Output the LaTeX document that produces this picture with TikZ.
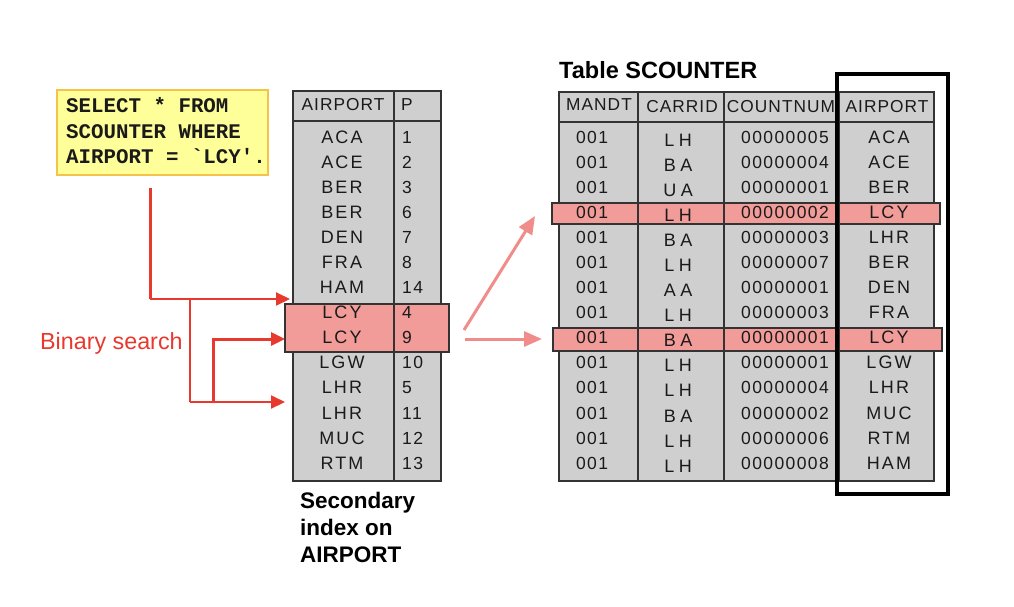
\documentclass[tikz,border=0pt]{standalone}
\usepackage{fontspec}
\setmainfont{Liberation Sans}
\newfontfamily\qfont{Liberation Mono}
\newfontfamily\codefont{Liberation Sans}[LetterSpace=12]
\newfontfamily\carfont{Liberation Sans}[LetterSpace=25]
\newfontfamily\numfont{Liberation Sans}[LetterSpace=8]
\newfontfamily\hdfont{Liberation Sans}[LetterSpace=6]
\usetikzlibrary{arrows.meta}
\definecolor{qfill}{HTML}{FFFF99}
\definecolor{qdraw}{HTML}{F3C449}
\definecolor{tblfill}{HTML}{CFCFCF}
\definecolor{tbldraw}{HTML}{333333}
\definecolor{hlfill}{HTML}{F29C9A}
\definecolor{redc}{HTML}{E8392E}
\definecolor{pinkc}{HTML}{F08C8A}
\definecolor{txt}{HTML}{1A1A1A}
\tikzset{
  tblbox/.style={draw=tbldraw, fill=tblfill, line width=1.6pt, inner sep=0pt},
  hlbox/.style={draw=tbldraw, fill=hlfill, line width=1.6pt, inner sep=0pt},
  gridline/.style={draw=tbldraw, line width=1.6pt},
  cell/.style={inner sep=0pt, text height=12.5pt, text depth=0pt, text=txt},
  codecell/.style={cell, font=\codefont\fontsize{18}{20}\selectfont},
  carcell/.style={cell, font=\carfont\fontsize{18}{20}\selectfont},
  numcell/.style={cell, font=\numfont\fontsize{17.5}{20}\selectfont},
  hdcell/.style={cell, text height=12pt, font=\hdfont\fontsize{17.3}{19}\selectfont},
  qline/.style={anchor=base west, inner sep=0pt, font=\qfont\bfseries\fontsize{20.8}{26}\selectfont, text=txt},
  secline/.style={anchor=base west, inner sep=0pt, font=\bfseries\fontsize{22.5}{27}\selectfont, text=black},
  redthin/.style={draw=redc, line width=2pt, -{Triangle[length=14pt,width=13pt]}},
  redthick/.style={draw=redc, line width=3pt, -{Triangle[length=14pt,width=13pt]}},
  redplain/.style={draw=redc, line width=2pt},
  pinkarrow/.style={draw=pinkc, line width=3pt, -{Triangle[length=18pt,width=15pt]}},
}
\begin{document}
\begin{tikzpicture}[x=1pt,y=-1pt]
\useasboundingbox[fill=white] (0,0) rectangle (1014,606);

% query box
\node[draw=qdraw, fill=qfill, line width=2pt, minimum width=211pt, minimum height=85pt, inner sep=0pt] (q) at (162.5,132.5) {};
\node[qline] (qt1) at (66,112) {SELECT * FROM};
\node[qline] (qt2) at (66,138) {SCOUNTER WHERE};
\node[qline] (qt3) at (66,163) {AIRPORT = `LCY'.};

% index table
\node[tblbox, minimum width=148pt, minimum height=390pt] (idx) at (367,286) {};
\node[hlbox, minimum width=164pt, minimum height=48pt] (idxhl) at (367,328) {};
\draw[gridline] (293,121) -- (441,121);
\draw[gridline] (394,91) -- (394,481);
\node[hdcell] (ih1) at (343,104) {AIRPORT};
\node[hdcell, anchor=west] (ih2) at (401,104) {P};
\foreach \a/\p [count=\i] in {ACA/1,ACE/2,BER/3,BER/6,DEN/7,FRA/8,HAM/14,LCY/4,LCY/9,LGW/10,LHR/5,LHR/11,MUC/12,RTM/13} {
  \pgfmathsetmacro\yy{137+25.07*(\i-1)}
  \node[codecell] (ia-\i) at (342,\yy) {\a};
  \node[numcell, anchor=west] (ip-\i) at (402,\yy) {\p};
}
\node[secline] (sec1) at (300,508) {Secondary};
\node[secline] (sec2) at (300,535) {index on};
\node[secline] (sec3) at (300,562) {AIRPORT};

% main table
\node[anchor=base west, inner sep=0pt, font=\bfseries\fontsize{23.5}{26}\selectfont, text=black] (ttl) at (559,78) {Table SCOUNTER};
\node[tblbox, minimum width=375pt, minimum height=389pt] (mt) at (746.5,286.5) {};
\node[hlbox, minimum width=388pt, minimum height=21pt] (hl1) at (746,213.5) {};
\node[hlbox, minimum width=389pt, minimum height=23pt] (hl2) at (747.5,339.5) {};
\draw[gridline] (559,122) -- (934,122);
\draw[gridline] (638,92) -- (638,481);
\draw[gridline] (724,92) -- (724,481);
\draw[gridline] (839,92) -- (839,481);
\node[hdcell] (mh1) at (599,104) {MANDT};
\node[hdcell] (mh2) at (682,106) {CARRID};
\node[hdcell] (mh3) at (781,106) {COUNTNUM};
\node[hdcell] (mh4) at (887,106) {AIRPORT};
\foreach \m/\c/\n/\a [count=\i] in {001/LH/00000005/ACA,001/BA/00000004/ACE,001/UA/00000001/BER,001/LH/00000002/LCY,001/BA/00000003/LHR,001/LH/00000007/BER,001/AA/00000001/DEN,001/LH/00000003/FRA,001/BA/00000001/LCY,001/LH/00000001/LGW,001/LH/00000004/LHR,001/BA/00000002/MUC,001/LH/00000006/RTM,001/LH/00000008/HAM} {
  \pgfmathsetmacro\yy{137+25.07*(\i-1)}
  \node[numcell] (mm-\i) at (592,\yy) {\m};
  \node[carcell] (mc-\i) at (678,\yy+3) {\c};
  \node[numcell] (mn-\i) at (785,\yy) {\n};
  \node[codecell] (ma-\i) at (889,\yy) {\a};
}
\node[draw=black, line width=4pt, minimum width=111pt, minimum height=420pt, inner sep=0pt] (keycol) at (892.5,284) {};

% binary search arrows
\node[anchor=base west, inner sep=0pt, font=\fontsize{23.3}{26}\selectfont, text=redc] (bs) at (40,349) {Binary search};
\coordinate (qs) at (150,188);
\coordinate (t1) at (290,299);
\coordinate (t2) at (285,339);
\coordinate (t3) at (285,402);
\coordinate (b1) at (190,299);
\coordinate (b2) at (213,402);
\draw[redplain, line width=3pt] (qs) -- (qs |- t1);
\draw[redthin] (qs |- t1) -- (t1);
\draw[redplain] (b1) -- (b1 |- t3);
\draw[redthin] (b1 |- t3) -- (t3);
\draw[redthick] (b2) |- (t2);

% pink arrows to table rows
\coordinate (p0) at (464,330);
\coordinate (p1) at (535,216);
\coordinate (p2) at (465,339);
\coordinate (p3) at (542,339);
\draw[pinkarrow] (p0) -- (p1);
\draw[pinkarrow] (p2) -- (p3);
\end{tikzpicture}
\end{document}
